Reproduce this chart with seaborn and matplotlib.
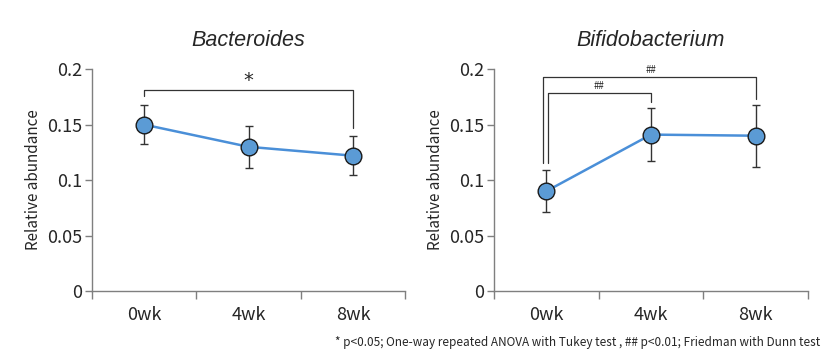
import numpy as np
import pandas as pd
import seaborn as sns
import matplotlib.pyplot as plt
from matplotlib.ticker import FixedLocator, NullFormatter, FixedFormatter

# data
weeks = ["0wk", "4wk", "8wk"]
bact_mean = [0.150, 0.130, 0.122]
bact_err = [0.0175, 0.019, 0.0175]
bifi_mean = [0.090, 0.141, 0.140]
bifi_err = [0.019, 0.024, 0.028]
titles = ["Bacteroides", "Bifidobacterium"]
yticks = [0, 0.05, 0.1, 0.15, 0.2]
ytick_labels = ["0", "0.05", "0.1", "0.15", "0.2"]

sns.set_theme(style="white")
plt.rcParams['font.family'] = ['Noto Sans CJK JP', 'DejaVu Sans']

fig = plt.figure(figsize=(8.33, 3.62), dpi=100)
ax1 = fig.add_axes([0.1104, 0.196, 0.376, 0.613])
ax2 = fig.add_axes([0.593, 0.196, 0.377, 0.613])

line_col = "#4A8FD8"
dot_col = "#5B9BD5"
axis_col = "#7f7f7f"

for ax, mean, err, title in [(ax1, bact_mean, bact_err, titles[0]),
                              (ax2, bifi_mean, bifi_err, titles[1])]:
    df = pd.DataFrame({"pos": np.arange(len(weeks)), "value": mean})
    ax.errorbar(df["pos"], df["value"], yerr=err, fmt="none",
                ecolor="#333333", elinewidth=1, capsize=3, capthick=1, zorder=2)
    sns.lineplot(data=df, x="pos", y="value", ax=ax, color=line_col,
                 linewidth=1.8, marker="o", markersize=12,
                 markerfacecolor=dot_col, markeredgecolor="#1a1a1a",
                 markeredgewidth=1, zorder=3)
    ax.set_xlim(-0.5, 2.5)
    ax.set_ylim(0, 0.2)
    ax.set_yticks(yticks)
    ax.set_yticklabels(ytick_labels, fontsize=13)
    ax.xaxis.set_major_locator(FixedLocator([-0.5, 0.5, 1.5, 2.5]))
    ax.xaxis.set_major_formatter(NullFormatter())
    ax.xaxis.set_minor_locator(FixedLocator(range(len(weeks))))
    ax.xaxis.set_minor_formatter(FixedFormatter(weeks))
    ax.tick_params(axis="x", which="major", length=6, width=1, color=axis_col,
                   direction="out", bottom=True)
    ax.tick_params(axis="x", which="minor", length=0, labelsize=13, pad=11)
    ax.tick_params(axis="y", length=5, width=1, color=axis_col, direction="out",
                   left=True, pad=2)
    ax.set_xlabel("")
    ax.set_ylabel("Relative abundance", fontsize=11, labelpad=4)
    for s in ["top", "right"]:
        ax.spines[s].set_visible(False)
    for s in ["left", "bottom"]:
        ax.spines[s].set_color(axis_col)
        ax.spines[s].set_linewidth(1)
    ax.set_title(title, fontsize=15.5, style="italic",
                 family=["Liberation Sans", "DejaVu Sans"], pad=17)

# significance brackets
bk = dict(color="#333333", linewidth=0.9, clip_on=False)
ax1.plot([0, 0, 2, 2], [0.176, 0.181, 0.181, 0.147], **bk)
ax1.text(1, 0.190, "*", ha="center", va="center", fontsize=14,
         family=["DejaVu Sans"])

ax2.plot([-0.03, -0.03, 2, 2], [0.115, 0.193, 0.193, 0.173], **bk)
ax2.text(1, 0.195, "##", ha="center", va="bottom", fontsize=7)
ax2.plot([0.02, 0.02, 1, 1], [0.115, 0.1786, 0.1786, 0.1705], **bk)
ax2.text(0.5, 0.1806, "##", ha="center", va="bottom", fontsize=7)

fig.text(0.985, 0.035,
         "* p<0.05; One-way repeated ANOVA with Tukey test , ## p<0.01; Friedman with Dunn test",
         ha="right", va="bottom", fontsize=8.5)

fig.savefig("out.png", dpi=100)
